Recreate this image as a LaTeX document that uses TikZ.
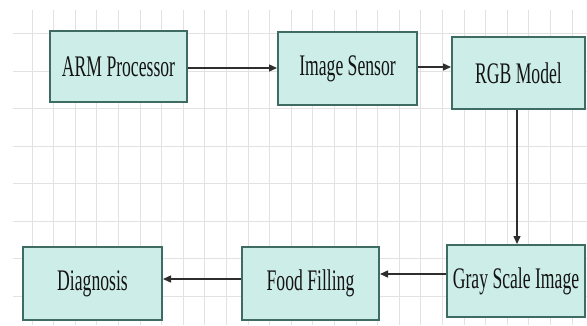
\documentclass[tikz,border=0pt]{standalone}
\usepackage{fontspec}
\usetikzlibrary{arrows.meta}
\newfontfamily\boxfont[FakeStretch=0.59]{Liberation Serif}
\definecolor{gridgray}{HTML}{E2E2E2}
\definecolor{boxfill}{HTML}{CDEEE8}
\definecolor{boxedge}{HTML}{3E6B62}
\definecolor{linkgray}{HTML}{2E2E2E}
\tikzset{
  procbox/.style={draw=boxedge, line width=2bp, fill=boxfill, rectangle,
    inner sep=0pt, text=black!92,
    font=\boxfont\fontsize{30}{30}\selectfont},
  link/.style={draw=linkgray, line width=1.4bp,
    -{Triangle[length=8bp,width=7bp]}},
  gridline/.style={draw=gridgray, line width=0.8bp}
}
\begin{document}
\begin{tikzpicture}[x=1bp,y=-1bp]
  \useasboundingbox (0,0) rectangle (587,325);
  \fill[white] (0,0) rectangle (587,325);
  % background grid
  \foreach \k in {0,...,25}
    \draw[gridline] ({32+21.6*\k},10) -- ({32+21.6*\k},325);
  \foreach \k in {0,...,7}
    \draw[gridline] (13,{33.5+37.5*\k}) -- (587,{33.5+37.5*\k});
  % process boxes
  \node[procbox, minimum width=137bp, minimum height=71bp] (arm) at (118.5,66.5) {ARM Processor};
  \node[procbox, minimum width=139bp, minimum height=73bp] (sensor) at (347.5,68.5) {Image Sensor};
  \node[procbox, minimum width=133bp, minimum height=72bp] (rgb) at (518.5,73) {RGB Model};
  \node[procbox, minimum width=138bp, minimum height=72bp] (gray) at (516,281) {Gray Scale Image};
  \node[procbox, minimum width=137bp, minimum height=73bp] (food) at (310.5,283.5) {Food Filling};
  \node[procbox, minimum width=139bp, minimum height=73bp] (diag) at (92.5,283.5) {Diagnosis};
  % connectors
  \coordinate (a1) at ([yshift=-1.5bp]arm.east);
  \draw[link] (a1) -- (a1 -| sensor.west);
  \coordinate (a2) at ([yshift=1.5bp]sensor.east);
  \draw[link] (a2) -- (a2 -| rgb.west);
  \coordinate (a3) at ([xshift=-1.5bp]rgb.south);
  \draw[link] (a3) -- (a3 |- gray.north);
  \coordinate (a4) at ([yshift=7bp]gray.west);
  \draw[link] (a4) -- (a4 -| food.east);
  \coordinate (a5) at ([yshift=4.5bp]food.west);
  \draw[link] (a5) -- (a5 -| diag.east);
\end{tikzpicture}
\end{document}
